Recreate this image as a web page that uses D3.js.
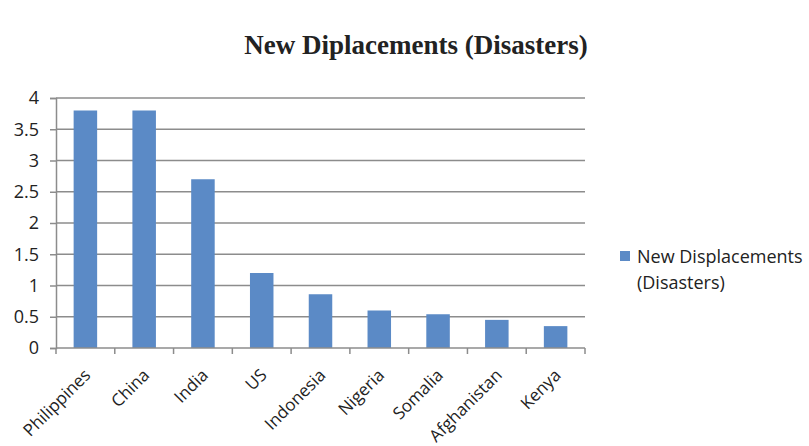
<!DOCTYPE html>
<html>
<head>
<meta charset="utf-8">
<script src="https://cdn.jsdelivr.net/npm/d3@7"></script>
<style>
  body { margin: 0; background: #fff; }
  text { font-family: "Open Sans", "Noto Sans", sans-serif; fill: #222; }
</style>
</head>
<body>
<div id="vis"></div>
<script>
const FRAME_WIDTH = 809;
const FRAME_HEIGHT = 446;
const MARGINS = {left: 56, right: 224, top: 98, bottom: 98};
const VIS_WIDTH = FRAME_WIDTH - MARGINS.left - MARGINS.right;
const VIS_HEIGHT = FRAME_HEIGHT - MARGINS.top - MARGINS.bottom;

// chart data
const COUNTRIES = ["Philippines", "China", "India", "US", "Indonesia", "Nigeria", "Somalia", "Afghanistan", "Kenya"];
const DISPLACEMENTS = [3.8, 3.8, 2.7, 1.2, 0.86, 0.6, 0.54, 0.45, 0.35];
const Y_TICKS = [0, 0.5, 1, 1.5, 2, 2.5, 3, 3.5, 4];
const SERIES_NAME = ["New Displacements", "(Disasters)"];
const TITLE = "New Diplacements (Disasters)";

const BAR_COLOR = "#5b8ac6";
const GRID_COLOR = "#8c8c8c";

const FRAME = d3.select("#vis")
    .append("svg")
        .attr("width", FRAME_WIDTH)
        .attr("height", FRAME_HEIGHT);

const X_SCALE = d3.scaleBand()
    .domain(COUNTRIES)
    .range([0, VIS_WIDTH])
    .paddingInner(0.6)
    .paddingOuter(0.3);

const Y_SCALE = d3.scaleLinear()
    .domain([0, 4])
    .range([VIS_HEIGHT, 0]);

const plot = FRAME.append("g")
    .attr("transform", "translate(" + MARGINS.left + "," + MARGINS.top + ")");

// gridlines
plot.selectAll(".grid")
    .data(Y_TICKS.filter(d => d > 0))
    .enter()
    .append("line")
        .attr("x1", 0)
        .attr("x2", VIS_WIDTH)
        .attr("y1", d => Y_SCALE(d))
        .attr("y2", d => Y_SCALE(d))
        .attr("stroke", GRID_COLOR)
        .attr("stroke-width", 1.5);

// y axis
const yAxis = plot.append("g")
    .call(d3.axisLeft(Y_SCALE).tickValues(Y_TICKS).tickSize(6).tickPadding(11).tickFormat(d3.format("")));
yAxis.select(".domain").attr("stroke", GRID_COLOR).attr("stroke-width", 1.5);
yAxis.selectAll(".tick line").attr("stroke", GRID_COLOR).attr("stroke-width", 1.5);
yAxis.selectAll(".tick text")
    .attr("font-size", "18px")
    .attr("font-family", "Open Sans, sans-serif")
    .attr("fill", "#222");

// bars
plot.selectAll(".bar")
    .data(DISPLACEMENTS)
    .enter()
    .append("rect")
        .attr("class", "bar")
        .attr("x", (d, i) => X_SCALE(COUNTRIES[i]))
        .attr("y", d => Y_SCALE(d))
        .attr("width", X_SCALE.bandwidth())
        .attr("height", d => VIS_HEIGHT - Y_SCALE(d))
        .attr("fill", BAR_COLOR);

// x axis with ticks at band boundaries
const xAxis = plot.append("g")
    .attr("transform", "translate(0," + VIS_HEIGHT + ")");
xAxis.append("line")
    .attr("x1", 0).attr("x2", VIS_WIDTH)
    .attr("stroke", GRID_COLOR).attr("stroke-width", 1.5);
const step = X_SCALE.step();
const x0 = X_SCALE(COUNTRIES[0]) - step * X_SCALE.paddingOuter();
xAxis.selectAll(".xtick")
    .data(d3.range(COUNTRIES.length + 1))
    .enter()
    .append("line")
        .attr("x1", i => Math.min(x0 + i * (VIS_WIDTH / COUNTRIES.length), VIS_WIDTH))
        .attr("x2", i => Math.min(x0 + i * (VIS_WIDTH / COUNTRIES.length), VIS_WIDTH))
        .attr("y1", 0).attr("y2", 6)
        .attr("stroke", GRID_COLOR).attr("stroke-width", 1.5);
xAxis.selectAll(".xlabel")
    .data(COUNTRIES)
    .enter()
    .append("text")
        .attr("transform", d => "translate(" + (X_SCALE(d) + X_SCALE.bandwidth() / 2 + 2) + ",24) rotate(-45)")
        .attr("text-anchor", "end")
        .attr("dy", "0.35em")
        .attr("font-size", "17px")
        .text(d => d);

// title
FRAME.append("text")
    .attr("x", 416)
    .attr("y", 54)
    .attr("text-anchor", "middle")
    .attr("font-weight", "bold")
    .attr("font-size", "27px")
    .attr("fill", "#222")
    .style("font-family", "Liberation Serif, serif")
    .text(TITLE);

// legend
const legend = FRAME.append("g").attr("transform", "translate(620,251)");
legend.append("rect")
    .attr("width", 10).attr("height", 10)
    .attr("fill", BAR_COLOR);
legend.selectAll("text")
    .data(SERIES_NAME)
    .enter()
    .append("text")
        .attr("x", 17)
        .attr("y", (d, i) => 12 + i * 26)
        .attr("font-size", "18px")
        .text(d => d);
</script>
</body>
</html>
